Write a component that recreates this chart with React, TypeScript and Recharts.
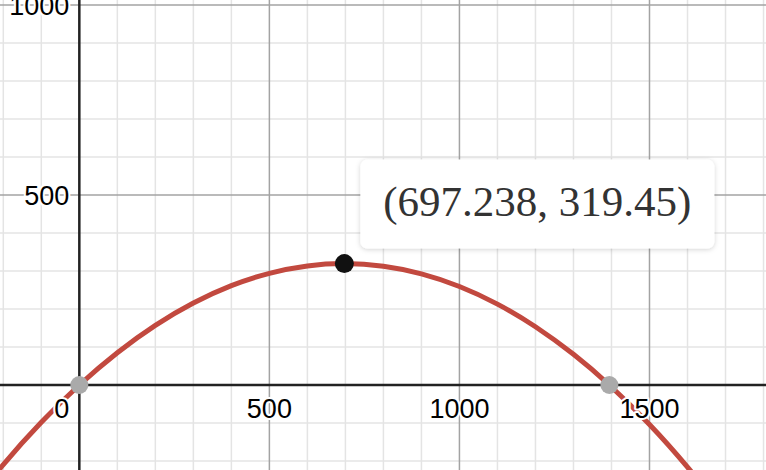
import { LineChart, Line, XAxis, YAxis, ReferenceLine, ReferenceDot } from 'recharts'

// curve (x, y)
const curveX = [-300, -200, -100, 0, 100, 200, 300, 400, 500, 600, 697.238, 800, 900, 1000, 1100, 1200, 1300, 1394.476, 1500, 1600, 1700, 1800]
const curveY = [-334, -209.5, -98.2, 0, 85.1, 157, 215.8, 261.4, 293.9, 313.2, 319.45, 312.5, 292.4, 259.2, 212.9, 153.3, 80.7, 0, -104, -216.1, -341.3, -479.1]

const minorX = [-200, -100, 100, 200, 300, 400, 600, 700, 800, 900, 1100, 1200, 1300, 1400, 1600, 1700, 1800]
const majorX = [500, 1000, 1500]
const minorY = [-200, -100, 100, 200, 300, 400, 600, 700, 800, 900]
const majorY = [500, 1000]

const xTickLabels = [500, 1000, 1500]
const yTickLabels = [500, 1000]

const rootPoints = [
  { x: 0, y: 0 },
  { x: 1394.476, y: 0 },
]
const vertex = { x: 697.238, y: 319.45 }

const data = curveX.map((x, i) => ({ x, y: curveY[i] }))

const X_DOMAIN: [number, number] = [-208.7, 1806.5]
const Y_DOMAIN: [number, number] = [-223.7, 1013.2]

const LABEL_FONT = '"Liberation Sans", Arial, sans-serif'
const haloProps = {
  stroke: '#fff',
  strokeWidth: 4,
  paintOrder: 'stroke' as const,
  strokeLinejoin: 'round' as const,
}

function XTick(props: any, text: string, anchor: 'middle' | 'end' = 'middle', dx = 0) {
  return (
    <text
      x={props.cx + dx}
      y={props.cy + 33}
      textAnchor={anchor}
      fontSize={27}
      fontFamily={LABEL_FONT}
      fill="#000"
      {...haloProps}
    >
      {text}
    </text>
  )
}

function YTick(props: any, text: string) {
  return (
    <text
      x={props.cx - 10}
      y={props.cy + 10}
      textAnchor="end"
      fontSize={27}
      fontFamily={LABEL_FONT}
      fill="#000"
      {...haloProps}
    >
      {text}
    </text>
  )
}

function CoordBox(props: any) {
  const left = props.cx + 16
  const top = props.cy - 104
  const w = 354
  const h = 89
  return (
    <g>
      <defs>
        <filter id="boxShadow" x="-10%" y="-20%" width="120%" height="150%">
          <feDropShadow dx="0" dy="1" stdDeviation="2.5" floodColor="#000" floodOpacity="0.18" />
        </filter>
      </defs>
      <rect x={left} y={top} width={w} height={h} rx={7} fill="#fff" filter="url(#boxShadow)" />
      <text
        x={left + w / 2}
        y={top + 56}
        textAnchor="middle"
        fontSize={43}
        fontFamily='"Liberation Serif", "Times New Roman", serif'
        fill="#333"
      >
        (697.238, 319.45)
      </text>
    </g>
  )
}

export default function App() {
  return (
    <div style={{ position: 'absolute', left: 0, top: 0, width: 766, height: 470, background: '#fff' }}>
      <LineChart width={766} height={470} data={data} margin={{ top: 0, right: 0, bottom: 0, left: 0 }}>
        <XAxis dataKey="x" type="number" domain={X_DOMAIN} allowDataOverflow hide />
        <YAxis dataKey="y" type="number" domain={Y_DOMAIN} allowDataOverflow hide />

        {minorX.map((v) => (
          <ReferenceLine key={`mx${v}`} x={v} stroke="#e4e4e4" strokeWidth={1.5} />
        ))}
        {minorY.map((v) => (
          <ReferenceLine key={`my${v}`} y={v} stroke="#e4e4e4" strokeWidth={1.5} />
        ))}
        {majorX.map((v) => (
          <ReferenceLine key={`Mx${v}`} x={v} stroke="#a3a3a3" strokeWidth={1.5} />
        ))}
        {majorY.map((v) => (
          <ReferenceLine key={`My${v}`} y={v} stroke="#a3a3a3" strokeWidth={1.5} />
        ))}
        <ReferenceLine x={0} stroke="#222" strokeWidth={2.5} />
        <ReferenceLine y={0} stroke="#222" strokeWidth={2.5} />

        {xTickLabels.map((v) => (
          <ReferenceDot key={`xl${v}`} x={v} y={0} r={0} shape={(p: any) => XTick(p, String(v))} />
        ))}
        <ReferenceDot x={0} y={0} r={0} shape={(p: any) => XTick(p, '0', 'end', -10)} />
        {yTickLabels.map((v) => (
          <ReferenceDot key={`yl${v}`} x={0} y={v} r={0} shape={(p: any) => YTick(p, String(v))} />
        ))}

        <Line
          type="natural"
          dataKey="y"
          stroke="#c2493f"
          strokeWidth={5}
          dot={false}
          activeDot={false}
          isAnimationActive={false}
        />

        {rootPoints.map((p) => (
          <ReferenceDot key={`r${p.x}`} x={p.x} y={p.y} r={9} fill="#aaaaaa" stroke="none" />
        ))}
        <ReferenceDot x={vertex.x} y={vertex.y} r={9.5} fill="#111" stroke="none" />
        <ReferenceDot x={vertex.x} y={vertex.y} r={0} shape={(p: any) => CoordBox(p)} />
      </LineChart>
    </div>
  )
}
